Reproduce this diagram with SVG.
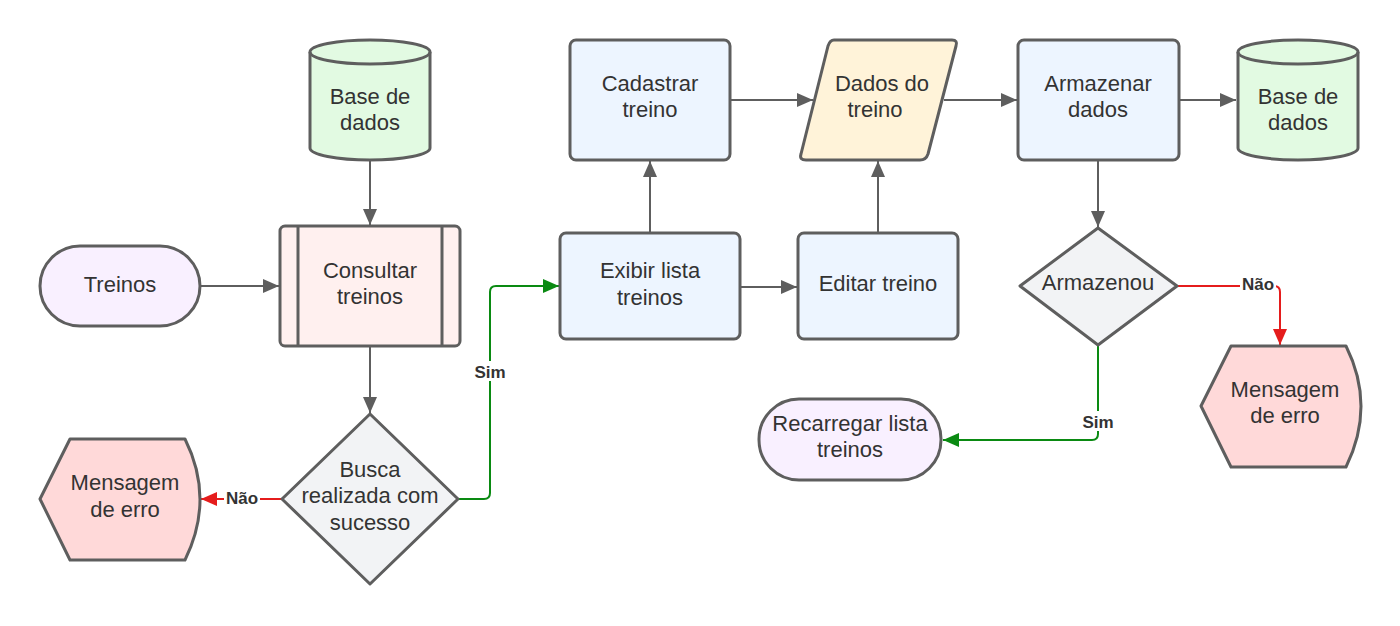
<svg xmlns="http://www.w3.org/2000/svg" width="1400" height="626" viewBox="0 0 1400 626">
<style>
.n{stroke:#5e5e5e;stroke-width:3;stroke-linejoin:round}
.t{font-family:"Liberation Sans",Arial,sans-serif;font-size:22px;fill:#333;text-anchor:middle}
.c{fill:none;stroke:#5e5e5e;stroke-width:2}
.g{fill:none;stroke:#0a8a12;stroke-width:2}
.r{fill:none;stroke:#e51c1c;stroke-width:2}
.l{font-family:"Liberation Sans",Arial,sans-serif;font-size:17px;font-weight:bold;fill:#333;text-anchor:middle}
.db{fill:#e2fae2}.pill{fill:#f9f0ff}.sub{fill:#fff0ef}.dec{fill:#f2f3f5}.msg{fill:#ffd9d9}.box{fill:#edf5ff}.io{fill:#fff3d9}
</style>
<defs>
<marker id="ag" viewBox="0 0 16 14" refX="16" refY="7" markerWidth="16" markerHeight="14" markerUnits="userSpaceOnUse" orient="auto"><path d="M0,0 L16,7 L0,14 Z" fill="#5e5e5e"/></marker>
<marker id="agr" viewBox="0 0 16 14" refX="16" refY="7" markerWidth="16" markerHeight="14" markerUnits="userSpaceOnUse" orient="auto"><path d="M0,0 L16,7 L0,14 Z" fill="#0a8a12"/></marker>
<marker id="ar" viewBox="0 0 16 14" refX="16" refY="7" markerWidth="16" markerHeight="14" markerUnits="userSpaceOnUse" orient="auto"><path d="M0,0 L16,7 L0,14 Z" fill="#e51c1c"/></marker>
</defs>
<rect width="1400" height="626" fill="#ffffff"/>
<g id="connectors">
<path class="c" d="M370,161 V225" marker-end="url(#ag)"/>
<path class="c" d="M201,286 H279" marker-end="url(#ag)"/>
<path class="c" d="M370,347 V413" marker-end="url(#ag)"/>
<path class="r" d="M281,499 H201" marker-end="url(#ar)"/>
<path class="g" d="M459,499 H484 Q490,499 490,493 V292 Q490,286 496,286 H559" marker-end="url(#agr)"/>
<path class="c" d="M650,233 V161" marker-end="url(#ag)"/>
<path class="c" d="M741,287 H797" marker-end="url(#ag)"/>
<path class="c" d="M878,233 V161" marker-end="url(#ag)"/>
<path class="c" d="M731,100 H813" marker-end="url(#ag)"/>
<path class="c" d="M944,100 H1017" marker-end="url(#ag)"/>
<path class="c" d="M1180,100 H1236" marker-end="url(#ag)"/>
<path class="c" d="M1098,161 V227" marker-end="url(#ag)"/>
<path class="r" d="M1177,286 H1274 Q1280,286 1280,292 V345" marker-end="url(#ar)"/>
<path class="g" d="M1098,345 V434 Q1098,440 1092,440 H943" marker-end="url(#agr)"/>
<rect x="224" y="488" width="36" height="20" fill="#fff"/>
<text class="l" x="242" y="504">Não</text>
<rect x="473" y="361" width="34" height="20" fill="#fff"/>
<text class="l" x="490" y="378">Sim</text>
<rect x="1240" y="275" width="36" height="20" fill="#fff"/>
<text class="l" x="1258" y="290">Não</text>
<rect x="1081" y="411" width="34" height="20" fill="#fff"/>
<text class="l" x="1098" y="428">Sim</text>
</g>
<g id="db1">
<path class="n db" d="M310,52 A60,12 0 0 1 430,52 V148 A60,12 0 0 1 310,148 Z"/>
<path class="n" fill="none" d="M310,52 A60,12 0 0 0 430,52"/>
<text class="t" x="370" y="104">Base de</text>
<text class="t" x="370" y="130">dados</text>
</g>
<g id="treinos">
<rect class="n pill" x="40" y="246" width="160" height="80" rx="40"/>
<text class="t" x="120" y="292">Treinos</text>
</g>
<g id="consultar">
<rect class="n sub" x="280" y="226" width="180" height="120" rx="5"/>
<path class="n" d="M298,226 V346 M442,226 V346"/>
<text class="t" x="370" y="278">Consultar</text>
<text class="t" x="370" y="304">treinos</text>
</g>
<g id="busca">
<path class="n dec" d="M370,414 L458,499 L370,584 L282,499 Z"/>
<text class="t" x="370" y="477">Busca</text>
<text class="t" x="370" y="503">realizada com</text>
<text class="t" x="370" y="530">sucesso</text>
</g>
<g id="erro1">
<path class="n msg" d="M40,499 L70,439 H185 Q215,499 185,560 H70 Z"/>
<text class="t" x="125" y="490">Mensagem</text>
<text class="t" x="125" y="517">de erro</text>
</g>
<g id="cadastrar">
<rect class="n box" x="570" y="40" width="160" height="120" rx="6"/>
<text class="t" x="650" y="91">Cadastrar</text>
<text class="t" x="650" y="117">treino</text>
</g>
<g id="dados">
<path class="n io" d="M834,40 H952 Q958,40 956,46 L928,154 Q926,160 920,160 H806 Q799,160 801,154 L828,46 Q830,40 834,40 Z"/>
<text class="t" x="882" y="91">Dados do</text>
<text class="t" x="875" y="117">treino</text>
</g>
<g id="exibir">
<rect class="n box" x="560" y="233" width="180" height="106" rx="6"/>
<text class="t" x="650" y="278">Exibir lista</text>
<text class="t" x="650" y="305">treinos</text>
</g>
<g id="editar">
<rect class="n box" x="798" y="233" width="160" height="106" rx="6"/>
<text class="t" x="878" y="291">Editar treino</text>
</g>
<g id="armazenar">
<rect class="n box" x="1018" y="40" width="161" height="120" rx="6"/>
<text class="t" x="1098" y="91">Armazenar</text>
<text class="t" x="1098" y="117">dados</text>
</g>
<g id="db2">
<path class="n db" d="M1238,52 A60,12 0 0 1 1358,52 V148 A60,12 0 0 1 1238,148 Z"/>
<path class="n" fill="none" d="M1238,52 A60,12 0 0 0 1358,52"/>
<text class="t" x="1298" y="104">Base de</text>
<text class="t" x="1298" y="130">dados</text>
</g>
<g id="armazenou">
<path class="n dec" d="M1098,228 L1177,286 L1098,345 L1020,286 Z"/>
<text class="t" x="1098" y="290">Armazenou</text>
</g>
<g id="erro2">
<path class="n msg" d="M1201,406 L1231,346 H1346 Q1376,406 1346,467 H1231 Z"/>
<text class="t" x="1285" y="397">Mensagem</text>
<text class="t" x="1285" y="423">de erro</text>
</g>
<g id="recarregar">
<rect class="n pill" x="759" y="399" width="182" height="81" rx="40"/>
<text class="t" x="850" y="431">Recarregar lista</text>
<text class="t" x="850" y="457">treinos</text>
</g>
</svg>
